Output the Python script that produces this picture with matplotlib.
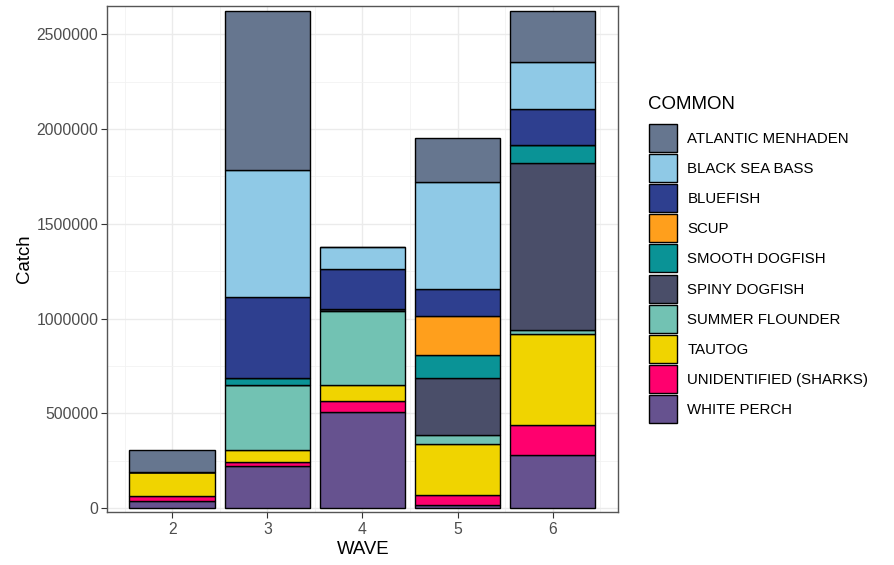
import matplotlib
matplotlib.use("Agg")
import matplotlib.pyplot as plt
from matplotlib.patches import Rectangle
import numpy as np

plt.rcParams['font.family'] = ['Liberation Sans', 'DejaVu Sans']

waves = [2, 3, 4, 5, 6]
species = ["ATLANTIC MENHADEN", "BLACK SEA BASS", "BLUEFISH", "SCUP", "SMOOTH DOGFISH",
           "SPINY DOGFISH", "SUMMER FLOUNDER", "TAUTOG", "UNIDENTIFIED (SHARKS)", "WHITE PERCH"]
colors = ["#66768F", "#8FC9E6", "#2E3F8F", "#FF9F1C", "#0A9396",
          "#4A4E69", "#72C2B3", "#F0D400", "#FF006E", "#66528F"]

# catch per species for waves 2..6
atlantic_menhaden = [116000, 840000, 0, 228000, 272000]
black_sea_bass    = [0, 670000, 115000, 567000, 248000]
bluefish          = [0, 429000, 214000, 141000, 189000]
scup              = [0, 0, 0, 204000, 0]
smooth_dogfish    = [0, 37000, 0, 124000, 95000]
spiny_dogfish     = [0, 0, 7000, 302000, 879000]
summer_flounder   = [0, 342000, 391000, 44000, 21000]
tautog            = [128000, 64000, 86000, 273000, 483000]
sharks            = [25000, 17000, 58000, 51000, 156000]
white_perch       = [39000, 224000, 507000, 16000, 280000]

values = [atlantic_menhaden, black_sea_bass, bluefish, scup, smooth_dogfish,
          spiny_dogfish, summer_flounder, tautog, sharks, white_perch]

W, H = 894, 565
fig = plt.figure(figsize=(W/100, H/100), dpi=100)
ax = fig.add_axes([107.3/W, 1-512.3/H, (618.3-107.3)/W, (512.3-5.7)/H])

x = np.array(waves, dtype=float)
bottom = np.zeros(len(waves))
# stack from last species (bottom) to first (top)
for name, col, vals in reversed(list(zip(species, colors, values))):
    v = np.array(vals, dtype=float)
    ax.bar(x, v, width=0.9, bottom=bottom, color=col, edgecolor='black',
           linewidth=1.0, zorder=3)
    bottom += v

ax.set_xlim(1.317, 6.69)
ax.set_ylim(-22000, 2650000)
ax.set_xticks(waves)
ax.set_xticklabels([str(w) for w in waves])
ax.set_yticks([0, 500000, 1000000, 1500000, 2000000, 2500000])
ax.set_yticklabels(["0", "500000", "1000000", "1500000", "2000000", "2500000"])
ax.set_xticks(np.arange(1.5, 6.6, 1.0), minor=True)
ax.set_yticks(np.arange(250000, 2650000, 500000), minor=True)
ax.grid(True, which='major', color='#EBEBEB', linewidth=1.0, zorder=0)
ax.grid(True, which='minor', color='#F2F2F2', linewidth=0.6, zorder=0)
ax.set_axisbelow(True)
ax.tick_params(axis='both', which='major', labelsize=11.3, labelcolor='#4D4D4D',
               color='#333333', length=4, width=0.8)
ax.tick_params(axis='y', pad=2.4)
ax.tick_params(axis='x', pad=3)
ax.tick_params(which='minor', length=0)
for s in ax.spines.values():
    s.set_color('#555555')
    s.set_linewidth(1.0)

fig.text(362.8/W, 1-549.5/H, "WAVE", fontsize=13.4, ha='center', va='center', color='black')
fig.text(24/W, 1-259/H, "Catch", fontsize=13.4, ha='center', va='center', rotation=90, color='black')

# legend
fig.text(648.3/W, 1-104.7/H, "COMMON", fontsize=13.4, ha='left', va='center', color='black')
for i, (name, col) in enumerate(zip(species, colors)):
    cy = 137.8 + 30.15*i
    fig.patches.append(Rectangle((648.5/W, 1-(cy+14)/H), 28.5/W, 28/H,
                                 transform=fig.transFigure, facecolor=col,
                                 edgecolor='black', linewidth=1.0))
    fig.text(687.3/W, 1-(cy+1)/H, name, fontsize=10.8, ha='left', va='center', color='black')

fig.savefig("out.png", dpi=100)
